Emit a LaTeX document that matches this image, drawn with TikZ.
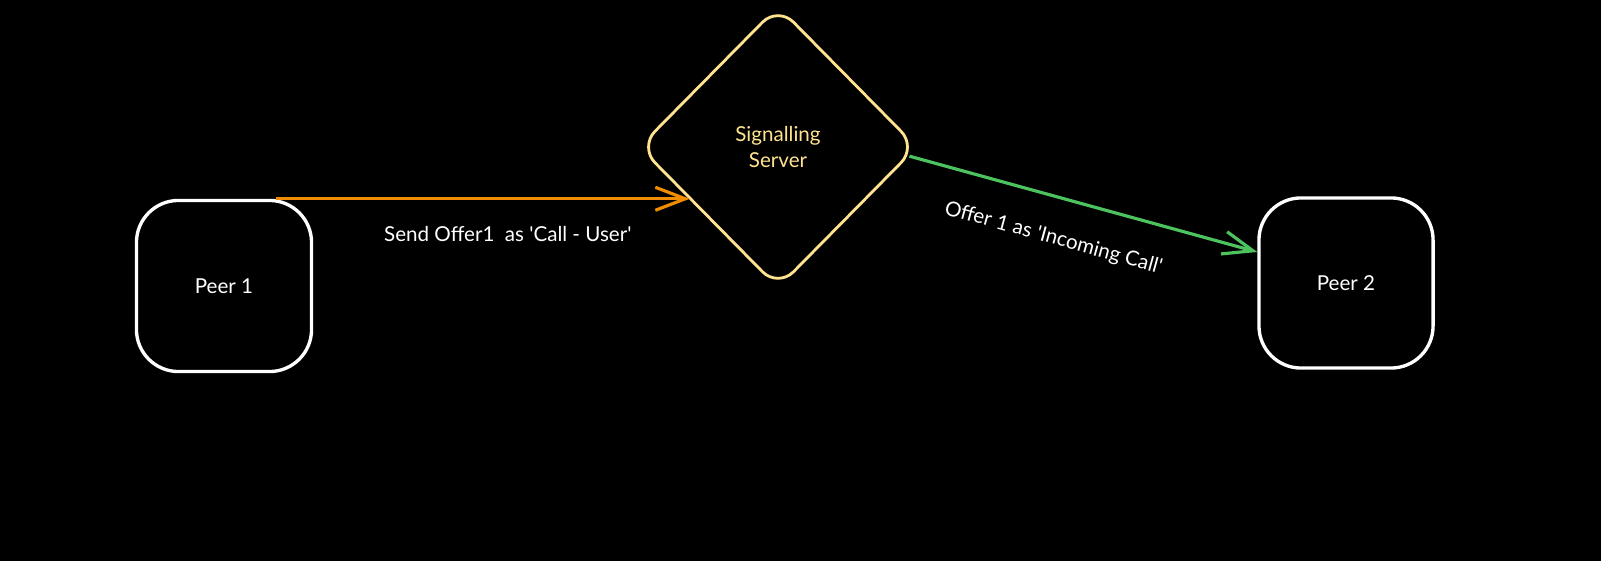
\documentclass[tikz,border=0pt]{standalone}
\usepackage{fontspec}
\setmainfont{Lato}[Ligatures=TeXOff]
\usetikzlibrary{shapes.geometric,arrows.meta,positioning}
\definecolor{arancio}{HTML}{F08C00}
\definecolor{verde}{HTML}{4CC35F}
\definecolor{giallo}{HTML}{FFE38F}
\begin{document}
\begin{tikzpicture}[x=0.01cm,y=-0.01cm,
				peer/.style={draw=white, line width=0.95pt, rounded corners=0.42cm, inner sep=0pt,
					text=white, font=\fontsize{5.85}{7}\selectfont},
				serverbox/.style={diamond, draw=giallo, line width=0.8pt, rounded corners=0.22cm, inner sep=0pt,
					minimum width=2.78cm, minimum height=2.82cm, align=center, text=giallo,
					font=\fontsize{5.85}{7.5}\selectfont},
				freccia/.style={line width=0.9pt, -{Straight Barb[length=0.3cm,width=0.23cm,line width=0.9pt]}},
				etichetta/.style={text=white, inner sep=0pt, font=\fontsize{5.85}{7}\selectfont},
				]
				% ── Sfondo ──
				\fill[black] (0,0) rectangle (1601,561);
				\useasboundingbox (0,0) rectangle (1601,561);
				% ── Nodi ──
				\node[peer, minimum width=1.75cm, minimum height=1.71cm] (peerA) at (224,286) {Peer 1};
				\node[peer, minimum width=1.74cm, minimum height=1.70cm] (peerB) at (1346,283) {Peer 2};
				\node[serverbox] (server) at (778,147) {Signalling\\Server};
				% ── Messaggi ──
				\draw[freccia, arancio] ([xshift=-0.37cm]peerA.north east) -- (server.211 |- peerA.north)
					node[etichetta, pos=0.56, below=0.26cm] {Send Offer1\ \ as 'Call - User'};
				\draw[freccia, verde] (server.-4) -- ([yshift=0.31cm]peerB.west)
					node[etichetta, pos=0.445, below=0.3cm, sloped] {Offer 1 as 'Incoming Call'};
			\end{tikzpicture}
\end{document}
